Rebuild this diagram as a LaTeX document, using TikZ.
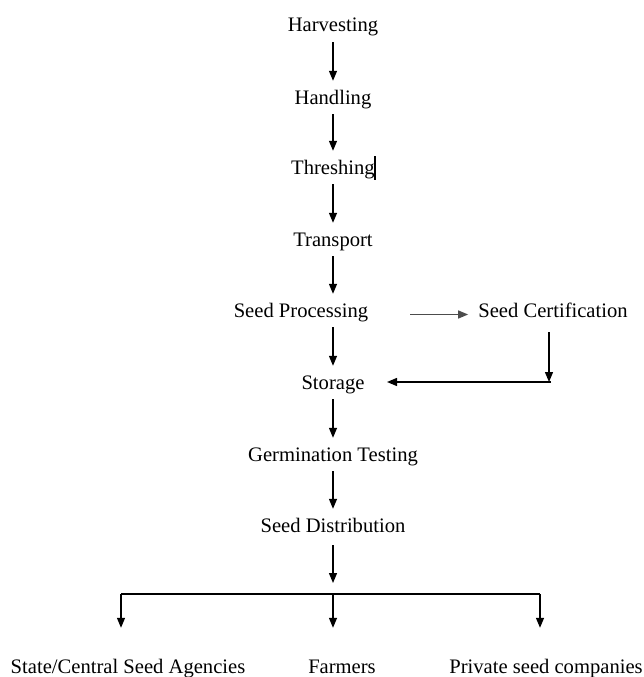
\documentclass[tikz,border=0pt]{standalone}
\usepackage{fontspec}
\setmainfont{Liberation Serif}
\usetikzlibrary{arrows.meta,calc}
\begin{document}
\begin{tikzpicture}[x=1pt,y=-1pt,
  lbl/.style={inner sep=0pt,anchor=base,font=\fontsize{20.6}{24}\selectfont,text height=14pt,text depth=5pt},
  arr/.style={line width=1.3pt,-{Triangle[width=8pt,length=10pt]}},
  stepline/.style={line width=1.3pt},
  flow/.style={arr,shorten <=5pt,shorten >=9pt}]
\useasboundingbox (0,0) rectangle (644,677);
\node[lbl] (hv) at (333,32) {Harvesting};
\node[lbl] (hd) at (333,104) {Handling};
\node[lbl] (th) at (333,174) {Threshing};
\node[lbl] (tr) at (333,246) {Transport};
\node[lbl] (sp) at (301,317) {Seed Processing};
\node[lbl] (sc) at (553,317) {Seed Certification};
\node[lbl] (st) at (333,389) {Storage};
\node[lbl] (gt) at (333,461) {Germination Testing};
\node[lbl] (sd) at (333,532) {Seed Distribution};
\node[lbl] (a1) at (128,673) {State/Central Seed Agencies};
\node[lbl] (a2) at (342,673) {Farmers};
\node[lbl] (a3) at (546,673) {Private seed companies};
% text cursor mark
\coordinate (cur) at (375,156);
\draw[line width=1.8pt] (cur) -- ++(0,24);
\draw[flow] (hv) -- (hd);
\draw[flow] (hd) -- (th);
\draw[flow] (th) -- (tr);
\draw[flow] (tr.south) -- (tr.south |- sp.north);
\draw[flow] (sp.south -| st) -- (st);
\draw[flow] (st) -- (gt);
\draw[flow] (gt) -- (sd);
\draw[arr,draw=black!70,shorten <=42pt,shorten >=10pt] ([yshift=-2pt]sp.east) -- ([yshift=-2pt]sc.west);
\coordinate (cc) at (549,382);
\draw[arr] (cc |- sc.south) ++(0,10) -- (cc);
\draw[arr] ([xshift=2pt]cc) -- (387,382);
\coordinate (br) at (333,594);
\coordinate (bl) at (121,594);
\coordinate (brr) at (540,594);
\draw[arr,shorten <=8pt,shorten >=11pt] (sd) -- (br);
\draw[stepline] (bl) -- (brr);
\draw[arr,shorten >=31pt] (bl) -- (bl |- a1.north);
\draw[arr,shorten >=31pt] (br) -- (br |- a2.north);
\draw[arr,shorten >=31pt] (brr) -- (brr |- a3.north);
\end{tikzpicture}
\end{document}
